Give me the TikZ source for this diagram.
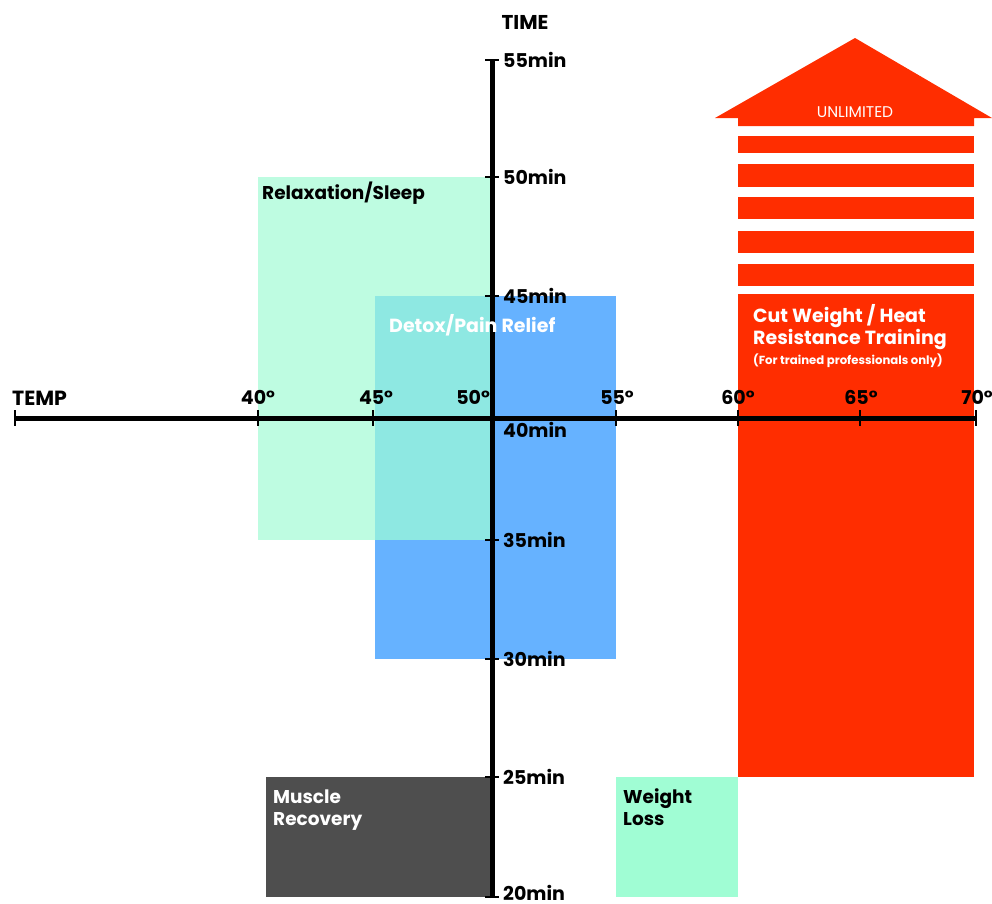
\documentclass[tikz,border=0pt]{standalone}
\usepackage{fontspec}
\setmainfont{Poppins}
\usepackage{tikz}
\definecolor{SaunaRed}{RGB}{255,45,0}
\definecolor{SaunaBlue}{RGB}{102,178,255}
\definecolor{SaunaMint}{RGB}{190,252,225}
\definecolor{SaunaTeal}{RGB}{142,232,226}
\definecolor{SaunaGreen}{RGB}{160,253,212}
\definecolor{SaunaGrey}{RGB}{78,78,78}

\tikzset{
  axistext/.style={font=\fontsize{19}{22}\selectfont\bfseries, inner sep=0pt},
  zonetext/.style={font=\fontsize{18.5}{22}\selectfont\bfseries, inner sep=0pt, align=left},
  tickmark/.style={line width=1.4pt}
}

\begin{document}
\begin{tikzpicture}[x=1pt,y=-1pt]
\useasboundingbox (0,0) rectangle (992,903);

% zones
\fill[SaunaMint] (258,177) rectangle (492,540);
\fill[SaunaBlue] (375,296) rectangle (616,659);
\fill[SaunaTeal] (375,296) rectangle (492,540);
\fill[SaunaGrey] (266,777) rectangle (492,897);
\fill[SaunaGreen] (616,777) rectangle (738,897);

% unlimited arrow
\fill[SaunaRed] (715,118) -- (855,38) -- (992,118) -- (974,118)
  -- (974,126) -- (738,126) -- (738,118) -- cycle;
\foreach \ya/\yb in {136/153,164/187,197/219,231/253,264/286}
  \fill[SaunaRed] (738,\ya) rectangle (974,\yb);
\fill[SaunaRed] (738,294) rectangle (974,777);

% axes
\coordinate (tempL) at (15,418);
\coordinate (tempR) at (975,418);
\coordinate (timeT) at (492,60);
\coordinate (timeB) at (492,898);
\draw[line width=5pt] (tempL) -- (tempR);
\draw[line width=5pt] (timeB) -- (timeT);

\foreach \x in {15,258,373,616,738,860,976}
  \draw[tickmark] (\x,410) -- (\x,426);
\foreach \y in {60,177,296,540,659,777,897}
  \draw[tickmark] (485,\y) -- (499,\y);

% axis labels
\node[axistext, anchor=base, font=\fontsize{20}{22}\selectfont\bfseries] (timeTitle) at (525,29) {TIME};
\node[axistext, anchor=base west, font=\fontsize{20.5}{22}\selectfont\bfseries] (tempTitle) at (12,405) {TEMP};

\node[axistext, anchor=base] (t40) at (258,404) {40°};
\node[axistext, anchor=base] (t45) at (376,404) {45°};
\node[axistext, anchor=base east] (t50) at (490,404) {50°};
\node[axistext, anchor=base] (t55) at (617,404) {55°};
\node[axistext, anchor=base] (t60) at (738,404) {60°};
\node[axistext, anchor=base] (t65) at (861,404) {65°};
\node[axistext, anchor=base] (t70) at (977,404) {70°};

\node[axistext, anchor=base west] (m55) at (503,67) {55min};
\node[axistext, anchor=base west] (m50) at (503,184) {50min};
\node[axistext, anchor=base west] (m45) at (503,303) {45min};
\node[axistext, anchor=base west] (m40) at (503,437) {40min};
\node[axistext, anchor=base west] (m35) at (503,547) {35min};
\node[axistext, anchor=base west] (m30) at (503,666) {30min};
\node[axistext, anchor=base west] (m25) at (503,784) {25min};
\node[axistext, anchor=base west] (m20) at (503,900) {20min};

% zone labels
\node[zonetext, anchor=base west] (relax) at (262,199) {Relaxation/Sleep};
\node[zonetext, anchor=base west, text=white, font=\fontsize{19}{22}\selectfont\bfseries]
  (detox) at (389,332) {Detox/Pain Relief};
\node[zonetext, anchor=base west, text=white] (muscle) at (273,825) {Muscle\\Recovery};
\node[zonetext, anchor=base west] (weight) at (623,825) {Weight\\Loss};
\node[zonetext, anchor=base west, text=white, font=\fontsize{19}{20}\selectfont\bfseries]
  (cut) at (753,344) {Cut Weight / Heat\\Resistance Training};
\node[font=\fontsize{11.7}{13}\selectfont\bfseries, text=white, inner sep=0pt, anchor=base west]
  (pros) at (753,364) {(For trained professionals only)};
\node[font=\fontsize{15.5}{17}\selectfont, text=white, inner sep=0pt, anchor=base]
  (unlimited) at (855,117) {UNLIMITED};
\end{tikzpicture}
\end{document}
